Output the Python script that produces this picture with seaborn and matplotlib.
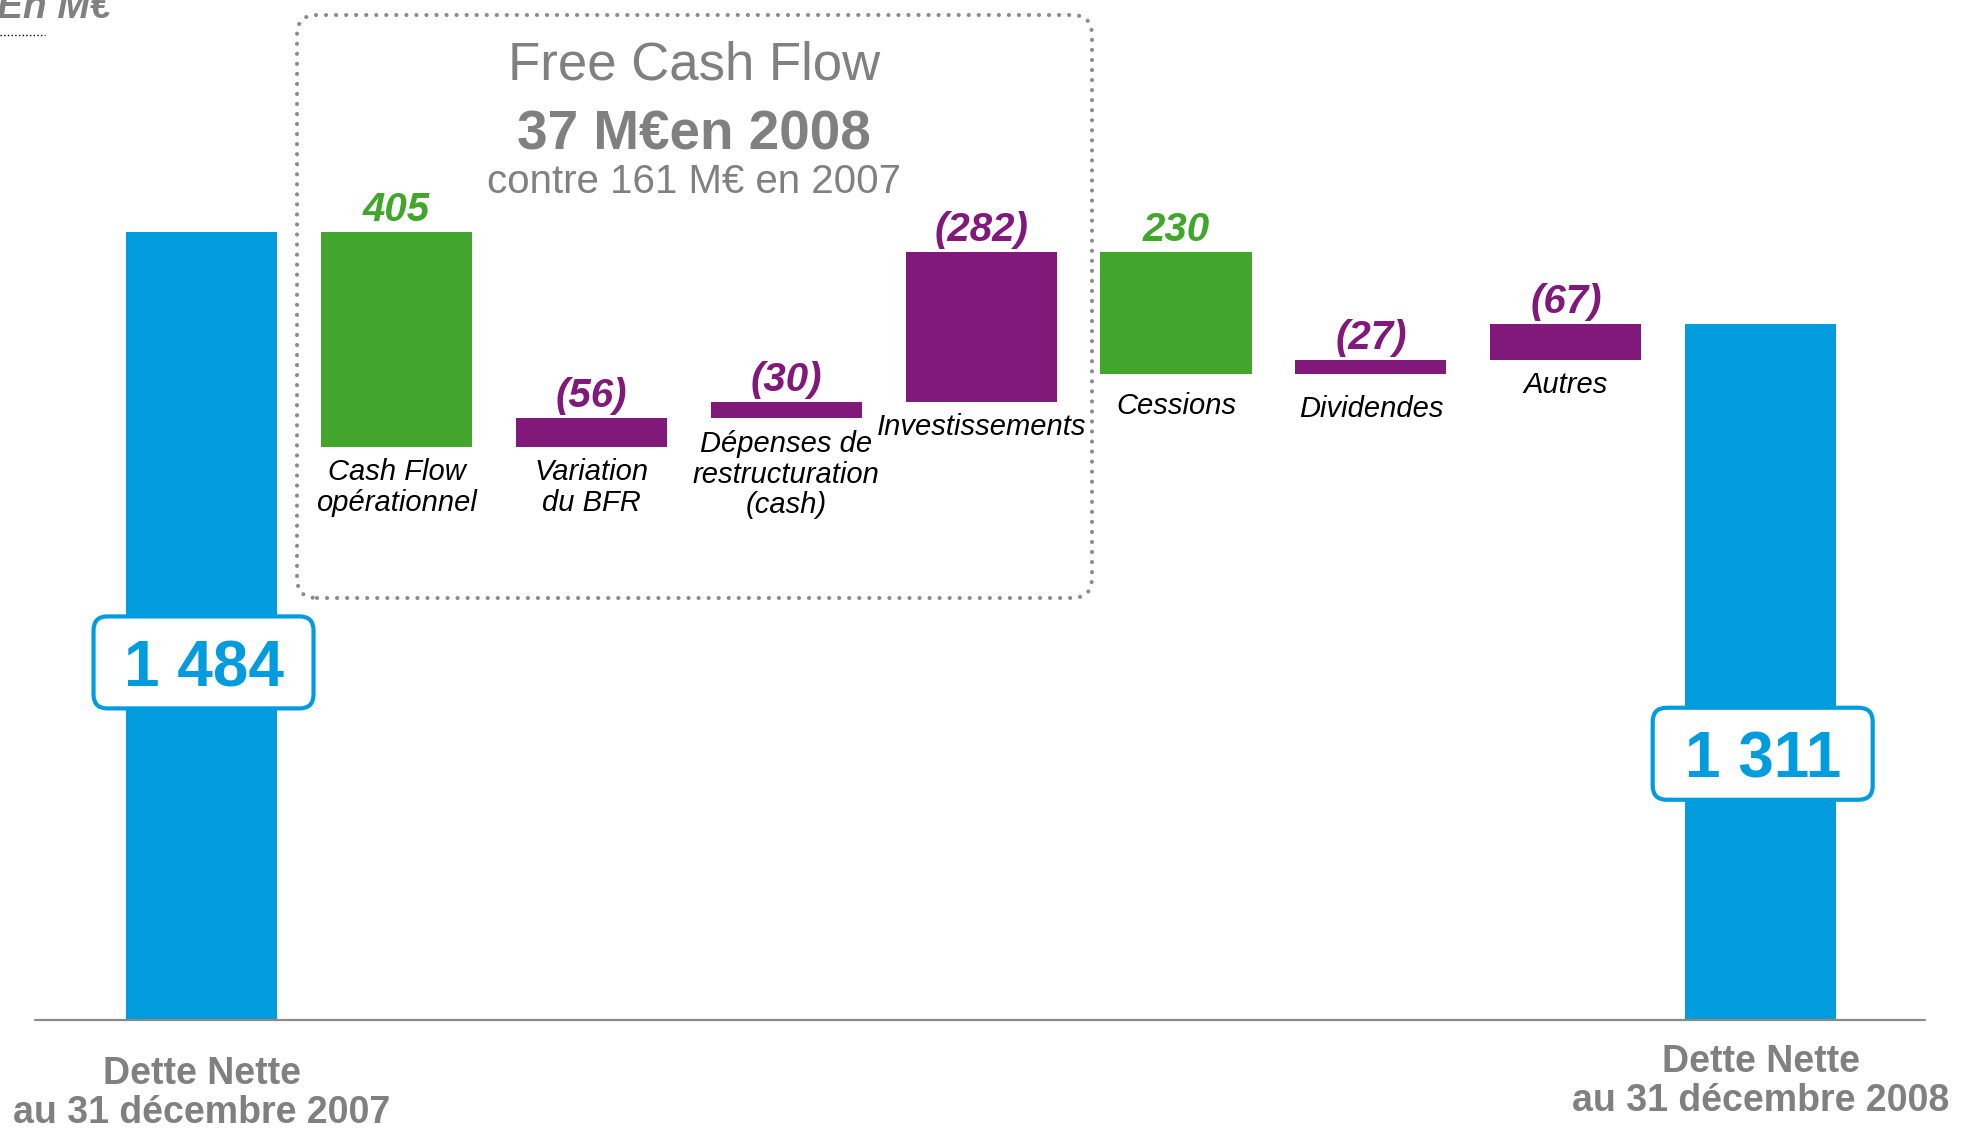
import numpy as np
import pandas as pd
import seaborn as sns
import matplotlib.pyplot as plt
from matplotlib.patches import FancyBboxPatch
from matplotlib.lines import Line2D
from matplotlib.transforms import IdentityTransform

sns.set_style("white")
plt.rcParams['font.family'] = ['Liberation Sans', 'DejaVu Sans']

# ---- data (M€) ----
start_label = "Dette Nette\nau 31 décembre 2007"
end_label = "Dette Nette\nau 31 décembre 2008"
debt_start = 1484
debt_end = 1311
debt_texts = ["1 484", "1 311"]
flow_labels = ["Cash Flow\nopérationnel", "Variation\ndu BFR",
               "Dépenses de\nrestructuration\n(cash)", "Investissements",
               "Cessions", "Dividendes", "Autres"]
flow_values = [405, -56, -30, -282, 230, -27, -67]
flow_texts = ["405", "(56)", "(30)", "(282)", "230", "(27)", "(67)"]

BLUE = "#009cdd"
GREEN = "#43a62c"
PURPLE = "#801979"
GREY = "#808080"

# waterfall: positive flow lowers the debt
level = debt_start
bottoms = [0]
heights = [debt_start]
colors = [BLUE]
for v in flow_values:
    new = level - v
    bottoms.append(min(level, new))
    heights.append(abs(v))
    colors.append(GREEN if v > 0 else PURPLE)
    level = new
bottoms.append(0)
heights.append(debt_end)
colors.append(BLUE)

df = pd.DataFrame({"etape": [start_label] + flow_labels + [end_label],
                   "montant": heights})

fig = plt.figure(figsize=(19.63, 11.29), dpi=100)
ax = fig.add_axes([0, 0, 1, 1])
sns.barplot(data=df, x="etape", y="montant", bottom=bottoms, width=0.775,
            color=BLUE, saturation=1, errorbar=None, linewidth=0, ax=ax)
for patch, c in zip(ax.patches, colors):
    patch.set_facecolor(c)
    patch.set_edgecolor(c)

ax.set_xlim(-1.034, 9.038)
ax.set_ylim(-204.7, 1921.5)
ax.axis("off")
ax.axhline(0, xmin=35 / 1963, xmax=1925 / 1963, color="#8a8a8a", lw=1.6, zorder=3)

# value + category labels of the flows
label_gap = [-8, -8, -9, -8, -13, -15, -8]
for i, (v, t) in enumerate(zip(flow_values, flow_texts), start=1):
    top = bottoms[i] + heights[i]
    ax.annotate(t, (i, top), xytext=(0, 8), textcoords="offset points",
                ha="center", va="baseline", fontsize=29, fontweight="bold",
                fontstyle="italic", color=GREEN if v > 0 else PURPLE)
    ax.annotate(flow_labels[i - 1], (i, bottoms[i]), xytext=(0, label_gap[i - 1]),
                textcoords="offset points", ha="center", va="top", fontsize=21,
                fontstyle="italic", color="black", linespacing=1.12)

# labels under the debt bars
ax.annotate(start_label, (0, 0), xytext=(0, -26), textcoords="offset points",
            ha="center", va="top", fontsize=27, fontweight="bold", color=GREY,
            linespacing=1.1)
ax.annotate(end_label, (8, 0), xytext=(0, -17), textcoords="offset points",
            ha="center", va="top", fontsize=27, fontweight="bold", color=GREY,
            linespacing=1.1)

# boxed debt values
for i, t, yc in [(0, debt_texts[0], 674), (8, debt_texts[1], 502)]:
    cx, cy = ax.transData.transform((i, yc))
    box = FancyBboxPatch((cx - 108, cy - 46), 220, 92,
                         boxstyle="round,pad=0,rounding_size=14",
                         transform=IdentityTransform(), facecolor="white",
                         edgecolor=BLUE, linewidth=3, zorder=5)
    ax.add_artist(box)
    ax.annotate(t, (i, yc), xytext=(2, -17), textcoords="offset points",
                ha="center", va="baseline", fontsize=46, fontweight="bold",
                color=BLUE, zorder=6)

# dotted Free Cash Flow frame
frame = FancyBboxPatch((297, 531), 795, 583, boxstyle="round,pad=0,rounding_size=20",
                       transform=IdentityTransform(), fill=False,
                       edgecolor="#8c8c8c", linewidth=3,
                       linestyle=(0, (0.01, 2.4)), capstyle="round", zorder=4)
ax.add_artist(frame)

W, H = 1963, 1129
fig.text(694 / W, 1 - 65 / H, "Free Cash Flow", ha="center", va="center",
         fontsize=38, color=GREY)
fig.text(694 / W, 1 - 136 / H, "37 M€en 2008", ha="center", va="center",
         fontsize=39.5, fontweight="bold", color=GREY)
fig.text(694 / W, 1 - 182 / H, "contre 161 M€ en 2007", ha="center", va="center",
         fontsize=29, color=GREY)

# unit, cut at the top of the slide as in the original
fig.text(-3 / W, 1 - 18 / H, "En M€", ha="left", va="baseline", fontsize=28,
         fontweight="bold", fontstyle="italic", color=GREY)
fig.add_artist(Line2D([0, 45 / W], [1 - 35 / H, 1 - 35 / H], transform=fig.transFigure,
                      color="black", lw=1, linestyle=":"))

fig.savefig("out.png", dpi=100)
